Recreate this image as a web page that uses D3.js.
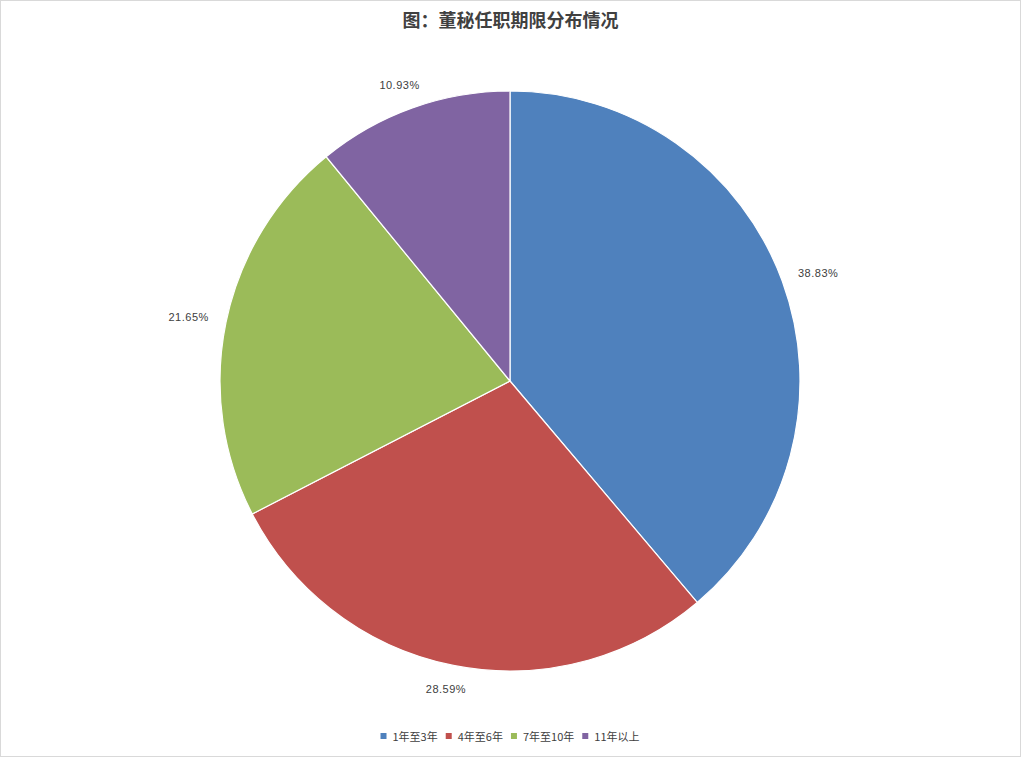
<!DOCTYPE html>
<html>
<head>
<meta charset="utf-8">
<script src="https://cdn.jsdelivr.net/npm/d3@7"></script>
<style>
  html, body { margin: 0; padding: 0; background: #fff; }
  svg { display: block; }
</style>
</head>
<body>
<script>
var width = 1021, height = 757;

var categories = ["1年至3年", "4年至6年", "7年至10年", "11年以上"];
var values = [38.83, 28.59, 21.65, 10.93];
var colors = ["#4F81BD", "#C0504D", "#9BBB59", "#8064A2"];
var title = "图：董秘任职期限分布情况";

var cx = 510, cy = 381, R = 290;

var svg = d3.select("body").append("svg")
    .attr("width", width)
    .attr("height", height);

// outer frame
svg.append("rect")
    .attr("x", 0.5).attr("y", 0.5)
    .attr("width", width - 1).attr("height", height - 1)
    .attr("fill", "#fff")
    .attr("stroke", "#d9d9d9");

svg.append("text")
    .attr("x", width / 2)
    .attr("y", 27)
    .attr("text-anchor", "middle")
    .style("font-family", "'Noto Sans CJK SC', sans-serif")
    .style("font-weight", "bold")
    .style("font-size", "18px")
    .style("fill", "#404040")
    .text(title);

var data = categories.map((c, i) => ({name: c, value: values[i]}));

var pie = d3.pie().sort(null).value(d => d.value);
var arc = d3.arc().innerRadius(0).outerRadius(R);
var color = d3.scaleOrdinal(categories, colors);

var g = svg.append("g").attr("transform", `translate(${cx},${cy})`);

var arcs = pie(data);

g.selectAll("path")
    .data(arcs)
    .join("path")
    .attr("d", arc)
    .attr("fill", d => color(d.data.name))
    .attr("stroke", "#fff")
    .attr("stroke-width", 1.2);

// labels just outside the edge, pushed out by half their box
var labelR = R + 18;
g.selectAll("text.lbl")
    .data(arcs)
    .join("text")
    .attr("class", "lbl")
    .style("font-family", "'Liberation Sans', Arial, sans-serif")
    .style("font-size", "11px")
    .style("letter-spacing", "0.5px")
    .style("fill", "#404040")
    .attr("text-anchor", "middle")
    .attr("dominant-baseline", "central")
    .text(d => d.data.value.toFixed(2) + "%")
    .each(function(d) {
        var a = (d.startAngle + d.endAngle) / 2;
        var s = Math.sin(a), c = Math.cos(a);
        var bb = this.getBBox();
        var x = labelR * s + bb.width / 2 * s;
        var y = -labelR * c - bb.height / 2 * c;
        d3.select(this).attr("x", x).attr("y", y);
    });

// legend
var legend = svg.append("g");
var items = legend.selectAll("g")
    .data(categories)
    .join("g");

items.append("rect")
    .attr("y", 1)
    .attr("width", 6).attr("height", 6)
    .attr("fill", d => color(d));

items.append("text")
    .attr("x", 12)
    .attr("y", 4)
    .attr("dominant-baseline", "central")
    .style("font-family", "'Noto Sans CJK SC', sans-serif")
    .style("font-size", "11px")
    .style("fill", "#404040")
    .text(d => d);

var gap = 8;
var xoff = 0;
items.each(function() {
    var w = this.getBBox().width;
    d3.select(this).attr("transform", `translate(${xoff},0)`);
    xoff += w + gap;
});
xoff -= gap;
legend.attr("transform", `translate(${cx - xoff / 2},${732})`);
</script>
</body>
</html>
